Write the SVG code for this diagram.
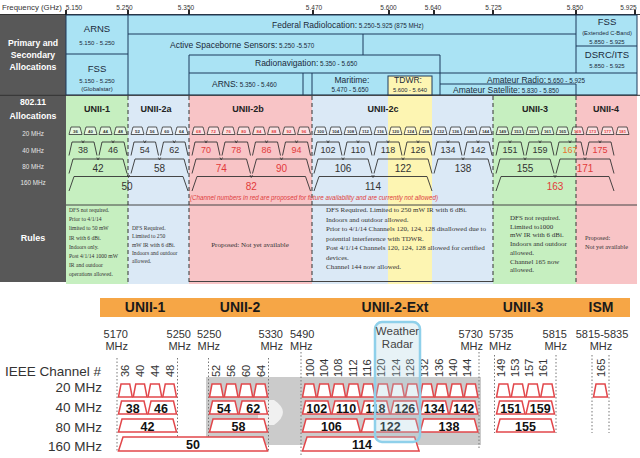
<svg xmlns="http://www.w3.org/2000/svg" width="640" height="458" viewBox="0 0 640 458">
<defs>
<style>
text{font-family:"Liberation Sans",Arial,sans-serif}
g.ser text{font-family:"Liberation Serif","Times New Roman",serif;font-size:7px;fill:#333}
g.ser text.sm{font-size:5.6px}
.al{fill:#aae3f4;stroke:#1c3b5c;stroke-width:1}
.ln{stroke:#1c3b5c;stroke-width:1;fill:none}
.at{fill:#1a2a3a;font-size:8.5px}
.as{fill:#1a2a3a;font-size:6.3px}
.wh{fill:#fff;font-weight:bold;font-size:8.7px;text-anchor:middle}
.lg{fill:#e6e6e6;font-size:6.3px;text-anchor:middle}
.hd{fill:#222;font-weight:bold;font-size:9px;text-anchor:middle}
.dsh{stroke:#333;stroke-width:1;stroke-dasharray:4 3}
.c20{fill:#fff;fill-opacity:.5;stroke:#333;stroke-width:.8}
.cho{fill:none;stroke:#333;stroke-width:.9}
.n4{font-size:4.3px;font-weight:bold;text-anchor:middle}
.n9{font-size:9px;text-anchor:middle}
.n10{font-size:10px;text-anchor:middle}
.k{fill:#333}
.r{fill:#e23a3a}
.tk{stroke:#333;stroke-width:.8;fill:none}
.rb{fill:#fff;stroke:#e2474b;stroke-width:1.5}
.bn{font-size:12.5px;font-weight:bold;fill:#111;text-anchor:middle}
.cn{font-size:11px;fill:#333}
.dot{stroke:#777;stroke-width:1;stroke-dasharray:1.5 2}
.fq{font-size:11px;fill:#333}
.ob{font-size:14px;font-weight:bold;fill:#1a1a1a;text-anchor:middle}
.rl{font-size:13.5px;fill:#333;text-anchor:end}
.tl{font-size:6.5px;fill:#333;text-anchor:middle}
</style>
</defs>
<rect width="640" height="458" fill="#fff"/>

<!-- ================= TOP CHART ================= -->
<g id="freq-header">
  <text x="2" y="10" style="font-size:7.8px;fill:#333">Frequency (GHz)</text>
  <line x1="0" y1="14.5" x2="640" y2="14.5" stroke="#333" stroke-width="1"/>
  <g stroke="#111" stroke-width="1.8">
    <line x1="66" y1="10" x2="66" y2="17"/><line x1="128" y1="10" x2="128" y2="17"/>
    <line x1="189" y1="10" x2="189" y2="17"/><line x1="313" y1="10" x2="313" y2="17"/>
    <line x1="389" y1="10" x2="389" y2="17"/><line x1="434" y1="10" x2="434" y2="17"/>
    <line x1="493" y1="10" x2="493" y2="17"/><line x1="576" y1="10" x2="576" y2="17"/>
    <line x1="635" y1="10" x2="635" y2="17"/>
  </g>
  <text class="tl" x="74" y="9.5">5.150</text><text class="tl" x="124.5" y="9.5">5.250</text>
  <text class="tl" x="186" y="9.5">5.350</text><text class="tl" x="314" y="9.5">5.470</text>
  <text class="tl" x="388.5" y="9.5">5.600</text><text class="tl" x="433" y="9.5">5.640</text>
  <text class="tl" x="493.5" y="9.5">5.725</text><text class="tl" x="575" y="9.5">5.850</text>
  <text class="tl" x="628.5" y="9.5">5.925</text>
</g>

<g id="left-column">
  <rect x="0" y="15" width="66" height="267" fill="#585858"/>
  <text class="wh" x="33" y="46">Primary and</text>
  <text class="wh" x="33" y="57.5">Secondary</text>
  <text class="wh" x="33" y="69.5">Allocations</text>
  <text class="wh" x="33" y="105">802.11</text>
  <text class="wh" x="33" y="118.5">Allocations</text>
  <text class="lg" x="33" y="136">20 MHz</text>
  <text class="lg" x="33" y="152.5">40 MHz</text>
  <text class="lg" x="33" y="169">80 MHz</text>
  <text class="lg" x="33" y="185">160 MHz</text>
  <text class="wh" x="33" y="241" style="font-size:9px">Rules</text>
</g>

<g id="primary-allocations">
  <rect class="al" x="66" y="15" width="571" height="80"/>
  <g class="ln">
    <line x1="66" y1="54" x2="128" y2="54"/>
    <line x1="128" y1="15" x2="128" y2="95"/>
    <line x1="128" y1="34" x2="576" y2="34"/>
    <line x1="576" y1="15" x2="576" y2="73"/>
    <line x1="576" y1="84" x2="576" y2="95"/>
    <line x1="576" y1="46" x2="637" y2="46"/>
    <line x1="363" y1="34" x2="363" y2="55"/>
    <line x1="189" y1="55" x2="440" y2="55"/>
    <line x1="189" y1="55" x2="189" y2="95"/>
    <line x1="440" y1="55" x2="440" y2="95"/>
    <line x1="189" y1="73" x2="637" y2="73"/>
    <line x1="303" y1="73" x2="303" y2="95"/>
    <line x1="312" y1="73" x2="312" y2="95"/>
    <line x1="440" y1="84" x2="576" y2="84"/>
  </g>
  <rect x="388" y="76" width="44" height="19" fill="#fdf5b2" stroke="#1c3b5c" stroke-width="1"/>
  <g id="arns-1"><text class="at" x="97" y="32" text-anchor="middle" style="font-size:9.5px">ARNS</text><text class="as" x="97" y="45" text-anchor="middle" style="font-size:6px">5.150 - 5.250</text></g>
  <g id="fss-1"><text class="at" x="97" y="72" text-anchor="middle" style="font-size:9.5px">FSS</text><text class="as" x="97" y="83" text-anchor="middle" style="font-size:6px">5.150 - 5.250</text><text class="as" x="97" y="90.5" text-anchor="middle" style="font-size:6px">(Globalstar)</text></g>
  <g id="federal"><text class="at" x="272" y="28">Federal Radiolocation:<tspan class="as"> 5.250-5.925 (875 MHz)</tspan></text></g>
  <g id="active"><text class="at" x="170" y="47.5">Active Spaceborne Sensors:<tspan class="as"> 5.250 -5.570</tspan></text></g>
  <g id="radionav"><text class="at" x="255" y="66">Radionavigation:<tspan class="as"> 5.350 - 5.650</tspan></text></g>
  <g id="arns-2"><text class="at" x="212" y="87">ARNS:<tspan class="as"> 5.350 - 5.460</tspan></text></g>
  <g id="maritime"><text class="at" x="352" y="82.5" text-anchor="middle">Maritime:</text><text class="as" x="350" y="91.5" text-anchor="middle">5.470 - 5.650</text></g>
  <g id="tdwr"><text class="at" x="408" y="83" text-anchor="middle">TDWR:</text><text class="as" x="410" y="92" text-anchor="middle" style="font-size:5.8px">5.600 - 5.640</text></g>
  <g id="amateur-radio"><text class="at" x="487" y="82.5">Amateur Radio:<tspan class="as"> 5.650 - 5.925</tspan></text></g>
  <g id="amateur-sat"><text class="at" x="453" y="92.5">Amateur Satellite:<tspan class="as"> 5.830 - 5.850</tspan></text></g>
  <g id="fss-2"><text class="at" x="607" y="25" text-anchor="middle" style="font-size:9.5px">FSS</text><text class="as" x="607" y="34.5" text-anchor="middle" style="font-size:5.8px">(Extended C-Band)</text><text class="as" x="607" y="43.5" text-anchor="middle" style="font-size:6px">5.850 - 5.925</text></g>
  <g id="dsrc"><text class="at" x="607" y="57.5" text-anchor="middle" style="font-size:9.5px">DSRC/ITS</text><text class="as" x="607" y="67.5" text-anchor="middle" style="font-size:6px">5.850 - 5.925</text></g>
</g>
<line x1="0" y1="95.3" x2="640" y2="95.3" stroke="#333" stroke-width="1"/>

<g id="bands-80211">
  <rect x="66" y="96" width="62" height="188" fill="#c6efc0"/>
  <rect x="128" y="96" width="61" height="188" fill="#dbe9f6"/>
  <rect x="189" y="96" width="123" height="188" fill="#f8c4c6"/>
  <rect x="312" y="96" width="181" height="188" fill="#dbe9f6"/>
  <rect x="388" y="96" width="44" height="188" fill="#fdf5b2"/>
  <rect x="493" y="96" width="83" height="188" fill="#c6efc0"/>
  <rect x="576" y="96" width="61" height="188" fill="#f8c4c6"/>
  <line x1="66" y1="205" x2="637" y2="205" stroke="#444" stroke-width="1"/>
  <line x1="189" y1="281.5" x2="493" y2="281.5" stroke="#444" stroke-width="1"/>
  <g class="dsh">
    <line x1="128" y1="96" x2="128" y2="284"/><line x1="189" y1="96" x2="189" y2="284"/>
    <line x1="312" y1="96" x2="312" y2="284"/><line x1="493" y1="96" x2="493" y2="284"/>
    <line x1="576" y1="96" x2="576" y2="284"/>
  </g>
  <text class="hd" x="97" y="111.5">UNII-1</text>
  <text class="hd" x="156" y="111.5">UNII-2a</text>
  <text class="hd" x="248" y="111.5">UNII-2b</text>
  <text class="hd" x="383" y="111.5">UNII-2c</text>
  <text class="hd" x="535" y="111.5">UNII-3</text>
  <text class="hd" x="606" y="111.5">UNII-4</text>
</g>

<g id="top-20mhz">
  <g class="c20">
    <path d="M69 134.5L71 127H80L82 134.5Z"/><path d="M84 134.5L86 127H95L97 134.5Z"/><path d="M99 134.5L101 127H110L112 134.5Z"/><path d="M114 134.5L116 127H125L127 134.5Z"/>
    <path d="M131 134.5L133 127H142L144 134.5Z"/><path d="M146 134.5L148 127H156.5L158.5 134.5Z"/><path d="M160.5 134.5L162.5 127H171L173 134.5Z"/><path d="M175 134.5L177 127H186L188 134.5Z"/>
    <path d="M192 134.5L194 127H203L205 134.5Z"/><path d="M207 134.5L209 127H218L220 134.5Z"/><path d="M222 134.5L224 127H233L235 134.5Z"/><path d="M237 134.5L239 127H248.5L250.5 134.5Z"/>
    <path d="M252.5 134.5L254.5 127H263.5L265.5 134.5Z"/><path d="M267.5 134.5L269.5 127H278.5L280.5 134.5Z"/><path d="M282.5 134.5L284.5 127H293.5L295.5 134.5Z"/><path d="M297.5 134.5L299.5 127H308.5L310.5 134.5Z"/>
    <path d="M314 134.5L316 127H325L327 134.5Z"/><path d="M329 134.5L331 127H340L342 134.5Z"/><path d="M344 134.5L346 127H355L357 134.5Z"/><path d="M359 134.5L361 127H370L372 134.5Z"/>
    <path d="M374 134.5L376 127H385L387 134.5Z"/><path d="M389 134.5L391 127H400L402 134.5Z"/><path d="M404 134.5L406 127H415L417 134.5Z"/><path d="M419 134.5L421 127H430L432 134.5Z"/>
    <path d="M434 134.5L436 127H445L447 134.5Z"/><path d="M449 134.5L451 127H460L462 134.5Z"/><path d="M464 134.5L466 127H475L477 134.5Z"/><path d="M479 134.5L481 127H490L492 134.5Z"/>
    <path d="M496 134.5L498 127H507L509 134.5Z"/><path d="M511 134.5L513 127H522L524 134.5Z"/><path d="M526 134.5L528 127H537L539 134.5Z"/><path d="M541 134.5L543 127H552L554 134.5Z"/>
    <path d="M556 134.5L558 127H567L569 134.5Z"/><path d="M571 134.5L573 127H582L584 134.5Z"/><path d="M586 134.5L588 127H597L599 134.5Z"/><path d="M601 134.5L603 127H612L614 134.5Z"/><path d="M616 134.5L618 127H627L629 134.5Z"/>
  </g>
  <g class="n4 k">
    <text x="75.5" y="133">36</text><text x="90.5" y="133">40</text><text x="105.5" y="133">44</text><text x="120.5" y="133">48</text>
    <text x="137.5" y="133">52</text><text x="152.25" y="133">56</text><text x="166.75" y="133">60</text><text x="181.5" y="133">64</text>
    <text x="320.5" y="133">100</text><text x="335.5" y="133">104</text><text x="350.5" y="133">108</text><text x="365.5" y="133">112</text>
    <text x="380.5" y="133">116</text><text x="395.5" y="133">120</text><text x="410.5" y="133">124</text><text x="425.5" y="133">128</text>
    <text x="440.5" y="133">132</text><text x="455.5" y="133">136</text><text x="470.5" y="133">140</text><text x="485.5" y="133">144</text>
    <text x="502.5" y="133">149</text><text x="517.5" y="133">153</text><text x="532.5" y="133">157</text><text x="547.5" y="133">161</text><text x="562.5" y="133">165</text>
  </g>
  <g class="n4 r">
    <text x="198.5" y="133">68</text><text x="213.5" y="133">72</text><text x="228.5" y="133">76</text><text x="243.75" y="133">80</text>
    <text x="259" y="133">84</text><text x="274" y="133">88</text><text x="289" y="133">92</text><text x="304" y="133">96</text>
    <text x="577.5" y="133">169</text><text x="592.5" y="133">173</text><text x="607.5" y="133">177</text><text x="622.5" y="133">181</text>
  </g>
</g>

<g id="top-40mhz">
  <g class="cho">
    <path d="M69 155.5L72 142H94L97 155.5"/><path d="M99 155.5L102 142H124L127 155.5"/>
    <path d="M131 155.5L134 142H155.5L158.5 155.5"/><path d="M160.5 155.5L163.5 142H185L188 155.5"/>
    <path d="M192 155.5L195 142H217L220 155.5"/><path d="M222 155.5L225 142H247.5L250.5 155.5"/><path d="M252.5 155.5L255.5 142H277.5L280.5 155.5"/><path d="M282.5 155.5L285.5 142H307.5L310.5 155.5"/>
    <path d="M314 155.5L317 142H339L342 155.5"/><path d="M344 155.5L347 142H369L372 155.5"/><path d="M374 155.5L377 142H399L402 155.5"/>
    <path d="M404 155.5L407 142H429L432 155.5"/><path d="M434 155.5L437 142H459L462 155.5"/><path d="M464 155.5L467 142H489L492 155.5"/>
    <path d="M496 155.5L499 142H521L524 155.5"/><path d="M526 155.5L529 142H551L554 155.5"/><path d="M556 155.5L559 142H581L584 155.5"/><path d="M586 155.5L589 142H611L614 155.5"/>
  </g>
  <g class="n9 k">
    <text x="83" y="153">38</text><text x="113" y="153">46</text><text x="144.75" y="153">54</text><text x="174.25" y="153">62</text>
    <text x="328" y="153">102</text><text x="358" y="153">110</text><text x="388" y="153">118</text><text x="418" y="153">126</text>
    <text x="448" y="153">134</text><text x="478" y="153">142</text><text x="510" y="153">151</text><text x="540" y="153">159</text>
  </g>
  <g class="n9 r">
    <text x="206" y="153">70</text><text x="236.25" y="153">78</text><text x="266.5" y="153">86</text><text x="296.5" y="153">94</text>
    <text x="570" y="153" fill="#e8742c">167</text><text x="600" y="153">175</text>
  </g>
</g>

<g id="top-80mhz">
  <g class="cho">
    <path d="M69 173.5L73 159H123L127 173.5"/><path d="M131 173.5L135 159H184L188 173.5"/>
    <path d="M192 173.5L196 159H246.5L250.5 173.5"/><path d="M252.5 173.5L256.5 159H306.5L310.5 173.5"/>
    <path d="M314 173.5L318 159H368L372 173.5"/><path d="M374 173.5L378 159H428L432 173.5"/><path d="M434 173.5L438 159H488L492 173.5"/>
    <path d="M496 173.5L500 159H550L554 173.5"/><path d="M556 173.5L560 159H610L614 173.5"/>
  </g>
  <g class="n10 k">
    <text x="98" y="171.5">42</text><text x="159.5" y="171.5">58</text><text x="343" y="171.5">106</text>
    <text x="403" y="171.5">122</text><text x="463" y="171.5">138</text><text x="525" y="171.5">155</text>
  </g>
  <g class="n10 r">
    <text x="221.25" y="171.5">74</text><text x="281.5" y="171.5">90</text><text x="585" y="171.5">171</text>
  </g>
</g>

<g id="top-160mhz">
  <g class="cho">
    <path d="M69 191L74 176.5H183L188 191"/><path d="M192 191L197 176.5H305.5L310.5 191"/>
    <path d="M314 191L319 176.5H427L432 191"/><path d="M496 191L501 176.5H609L614 191"/>
  </g>
  <text class="n10 k" x="127" y="190">50</text>
  <text class="n10 r" x="251.25" y="190">82</text>
  <text class="n10 k" x="373" y="190">114</text>
  <text class="n10 r" x="555" y="190">163</text>
  <text x="190" y="199.5" textLength="248" style="font-size:6.3px;font-style:italic;fill:#e04040">(Channel numbers in red are proposed for future availability and are currently not allowed)</text>
</g>

<g id="connectors">
  <g class="tk">
    <path d="M81.8 140.5L83 143L84.2 140.5M111.8 140.5L113 143L114.2 140.5M143.5 140.5L144.75 143L146 140.5M173 140.5L174.25 143L175.5 140.5"/>
    <path d="M204.8 140.5L206 143L207.2 140.5M235 140.5L236.25 143L237.5 140.5M265.3 140.5L266.5 143L267.7 140.5M295.3 140.5L296.5 143L297.7 140.5"/>
    <path d="M326.8 140.5L328 143L329.2 140.5M356.8 140.5L358 143L359.2 140.5M386.8 140.5L388 143L389.2 140.5M416.8 140.5L418 143L419.2 140.5M446.8 140.5L448 143L449.2 140.5M476.8 140.5L478 143L479.2 140.5"/>
    <path d="M508.8 140.5L510 143L511.2 140.5M538.8 140.5L540 143L541.2 140.5M568.8 140.5L570 143L571.2 140.5M598.8 140.5L600 143L601.2 140.5"/>
    <path d="M96.8 157.5L98 160L99.2 157.5M158.3 157.5L159.5 160L160.7 157.5M220 157.5L221.25 160L222.5 157.5M280.3 157.5L281.5 160L282.7 157.5M341.8 157.5L343 160L344.2 157.5M401.8 157.5L403 160L404.2 157.5M461.8 157.5L463 160L464.2 157.5M523.8 157.5L525 160L526.2 157.5M583.8 157.5L585 160L586.2 157.5"/>
    <path d="M127.3 175L128.5 177.5L129.7 175M250 175L251.25 177.5L252.5 175M371.8 175L373 177.5L374.2 175M553.8 175L555 177.5L556.2 175"/>
  </g>
</g>

<g id="rules">
  <g class="ser">
    <text class="sm" x="69" y="212">DFS not required.</text>
    <text class="sm" x="69" y="221">Prior to 4/1/14</text>
    <text class="sm" x="69" y="230">limited to 50 mW</text>
    <text class="sm" x="69" y="239.5">IR with 6 dBi.</text>
    <text class="sm" x="69" y="248.5">Indoors only.</text>
    <text class="sm" x="69" y="257.5">Post 4/1/14 1000 mW</text>
    <text class="sm" x="69" y="266.5">IR and outdoor</text>
    <text class="sm" x="69" y="275.5">operations allowed.</text>
    <text class="sm" x="132" y="230">DFS Required.</text>
    <text class="sm" x="132" y="238.3">Limited to 250</text>
    <text class="sm" x="132" y="246.6">mW IR with 6 dBi.</text>
    <text class="sm" x="132" y="254.9">Indoors and outdoor</text>
    <text class="sm" x="132" y="263.2">allowed.</text>
    <text x="326" y="212">DFS Required.  Limited to 250 mW IR with 6 dBi.</text>
    <text x="326" y="221.5">Indoors and outdoor allowed.</text>
    <text x="326" y="231">Prior to 4/1/14 Channels 120, 124, 128 disallowed due to</text>
    <text x="326" y="240.5">potential interference with TDWR.</text>
    <text x="326" y="250">Post 4/1/14 Channels 120, 124, 128 allowed for certified</text>
    <text x="326" y="259.5">devices.</text>
    <text x="326" y="269">Channel 144 now allowed.</text>
    <text x="510" y="220">DFS not required.</text>
    <text x="510" y="228.7">Limited to1000</text>
    <text x="510" y="237.4">mW IR with 6 dBi.</text>
    <text x="510" y="246.1">Indoors and outdoor</text>
    <text x="510" y="254.8">allowed.</text>
    <text x="510" y="263.5">Channel 165 now</text>
    <text x="510" y="272.2">allowed.</text>
    <text x="585" y="240" style="font-size:6.3px">Proposed:</text>
    <text x="585" y="249" style="font-size:6.3px">Not yet available</text>
    <text x="250" y="247" text-anchor="middle">Proposed: Not yet available</text>
  </g>
</g>

<!-- ================= BOTTOM CHART ================= -->
<g id="bottom-bands">
  <rect x="100" y="298" width="530" height="19" fill="#f6a646"/>
  <text class="ob" x="145" y="311.5">UNII-1</text>
  <text class="ob" x="240" y="311.5">UNII-2</text>
  <text class="ob" x="395" y="311.5">UNII-2-Ext</text>
  <text class="ob" x="523" y="311.5">UNII-3</text>
  <text class="ob" x="601" y="311.5">ISM</text>
</g>

<g id="bottom-freqs" class="fq">
  <text x="128" y="338" text-anchor="end">5170</text><text x="128" y="350" text-anchor="end">MHz</text>
  <text x="191" y="338" text-anchor="end">5250</text><text x="191" y="350" text-anchor="end">MHz</text>
  <text x="197" y="338">5250</text><text x="197.5" y="350">MHz</text>
  <text x="283" y="338" text-anchor="end">5330</text><text x="283" y="350" text-anchor="end">MHz</text>
  <text x="290" y="338">5490</text><text x="290" y="350">MHz</text>
  <text x="483" y="338" text-anchor="end">5730</text><text x="483" y="350" text-anchor="end">MHz</text>
  <text x="489" y="338">5735</text><text x="489" y="350">MHz</text>
  <text x="567" y="338" text-anchor="end">5815</text><text x="567" y="350" text-anchor="end">MHz</text>
  <text x="602" y="338" text-anchor="middle">5815-5835</text><text x="601" y="350" text-anchor="middle">MHz</text>
</g>

<g id="row-labels">
  <text class="rl" x="101" y="376">IEEE Channel #</text>
  <text class="rl" x="102" y="392">20 MHz</text>
  <text class="rl" x="102" y="412">40 MHz</text>
  <text class="rl" x="102" y="432">80 MHz</text>
  <text class="rl" x="102" y="451">160 MHz</text>
</g>

<g id="watermark">
  <rect x="206" y="377" width="275" height="68" fill="#cbcbcb"/>
  <path d="M258 400H274Q292 412 274 425H258Z" fill="#f0f0f0"/>
</g>

<g id="dotted-guides" class="dot">
  <line x1="117" y1="358" x2="117" y2="452"/><line x1="177.5" y1="358" x2="177.5" y2="452"/>
  <line x1="208.5" y1="358" x2="208.5" y2="452"/><line x1="268.5" y1="358" x2="268.5" y2="452"/>
  <line x1="301" y1="352" x2="301" y2="455"/><line x1="479" y1="352" x2="479" y2="450"/>
  <line x1="494.5" y1="355" x2="494.5" y2="433"/><line x1="556" y1="355" x2="556" y2="433"/>
  <line x1="592" y1="355" x2="592" y2="433"/><line x1="609" y1="355" x2="609" y2="433"/>
</g>

<g id="channel-numbers" class="cn">
  <text transform="translate(129.4 377) rotate(-90)">36</text>
  <text transform="translate(144.1 377) rotate(-90)">40</text>
  <text transform="translate(158.9 377) rotate(-90)">44</text>
  <text transform="translate(173.6 377) rotate(-90)">48</text>
  <text transform="translate(220.4 377) rotate(-90)">52</text>
  <text transform="translate(235.1 377) rotate(-90)">56</text>
  <text transform="translate(249.9 377) rotate(-90)">60</text>
  <text transform="translate(264.6 377) rotate(-90)">64</text>
  <text transform="translate(313.5 377) rotate(-90)">100</text>
  <text transform="translate(327.8 377) rotate(-90)">104</text>
  <text transform="translate(342.2 377) rotate(-90)">108</text>
  <text transform="translate(356.5 377) rotate(-90)">112</text>
  <text transform="translate(370.8 377) rotate(-90)">116</text>
  <text transform="translate(385.2 377) rotate(-90)">120</text>
  <text transform="translate(399.5 377) rotate(-90)">124</text>
  <text transform="translate(413.8 377) rotate(-90)">128</text>
  <text transform="translate(428.2 377) rotate(-90)">132</text>
  <text transform="translate(442.5 377) rotate(-90)">136</text>
  <text transform="translate(456.8 377) rotate(-90)">140</text>
  <text transform="translate(471 377) rotate(-90)">144</text>
  <text transform="translate(505 377) rotate(-90)">149</text>
  <text transform="translate(519 377) rotate(-90)">153</text>
  <text transform="translate(533 377) rotate(-90)">157</text>
  <text transform="translate(547 377) rotate(-90)">161</text>
  <text transform="translate(605 377) rotate(-90)">165</text>
</g>

<g id="bottom-20mhz" class="rb">
  <path d="M118.5 397L121 384H129.75L132.25 397Z"/><path d="M133.25 397L135.75 384H144.5L147 397Z"/><path d="M148 397L150.5 384H159.25L161.75 397Z"/><path d="M162.75 397L165.25 384H174L176.5 397Z"/>
  <path d="M209.5 397L212 384H220.75L223.25 397Z"/><path d="M224.25 397L226.75 384H235.5L238 397Z"/><path d="M239 397L241.5 384H250.25L252.75 397Z"/><path d="M253.75 397L256.25 384H265L267.5 397Z"/>
  <path d="M302.5 397L305 384H313.7L316.2 397Z"/><path d="M317.2 397L319.7 384H328.4L330.9 397Z"/><path d="M331.9 397L334.4 384H343.1L345.6 397Z"/><path d="M346.6 397L349.1 384H357.8L360.3 397Z"/>
  <path d="M361.3 397L363.8 384H372.5L375 397Z"/><path d="M376 397L378.5 384H387.2L389.7 397Z"/><path d="M390.7 397L393.2 384H401.9L404.4 397Z"/><path d="M405.4 397L407.9 384H416.6L419.1 397Z"/>
  <path d="M420.1 397L422.6 384H431.3L433.8 397Z"/><path d="M434.8 397L437.3 384H446L448.5 397Z"/><path d="M449.5 397L452 384H460.7L463.2 397Z"/><path d="M464.2 397L466.7 384H475.4L477.9 397Z"/>
  <path d="M496.5 397L499 384H507.75L510.25 397Z"/><path d="M511.25 397L513.75 384H522.5L525 397Z"/><path d="M526 397L528.5 384H537.25L539.75 397Z"/><path d="M540.75 397L543.25 384H552L554.5 397Z"/>
  <path d="M593.5 397L596 384H605L607.5 397Z"/>
</g>

<g id="bottom-40mhz">
  <g class="rb">
    <path d="M118.5 414L121.5 401H144L147 414Z"/><path d="M148 414L151 401H173.5L176.5 414Z"/>
    <path d="M209.5 414L212.5 401H235L238 414Z"/><path d="M239 414L242 401H264.5L267.5 414Z"/>
    <path d="M302.5 414L305.5 401H327.9L330.9 414Z"/><path d="M331.9 414L334.9 401H357.3L360.3 414Z"/><path d="M361.3 414L364.3 401H386.7L389.7 414Z"/>
    <path d="M390.7 414L393.7 401H416.1L419.1 414Z"/><path d="M420.1 414L423.1 401H445.5L448.5 414Z"/><path d="M449.5 414L452.5 401H474.9L477.9 414Z"/>
    <path d="M496.5 414L499.5 401H522L525 414Z"/><path d="M526 414L529 401H551.5L554.5 414Z"/>
  </g>
  <g class="bn">
    <text x="132.75" y="412.5">38</text><text x="161" y="412.5">46</text><text x="223.75" y="412.5">54</text><text x="253.25" y="412.5">62</text>
    <text x="316.7" y="412.5">102</text><text x="346.1" y="412.5">110</text><text x="375.5" y="412.5">118</text><text x="404.9" y="412.5">126</text>
    <text x="434.3" y="412.5">134</text><text x="463.7" y="412.5">142</text><text x="510.75" y="412.5">151</text><text x="540.25" y="412.5">159</text>
  </g>
</g>

<g id="bottom-80mhz">
  <g class="rb">
    <path d="M118.5 432L122 419H173L176.5 432Z"/><path d="M209.5 432L213 419H264L267.5 432Z"/>
    <path d="M302.5 432L306 419H356.8L360.3 432Z"/><path d="M361.3 432L364.8 419H415.6L419.1 432Z"/><path d="M420.1 432L423.6 419H474.4L477.9 432Z"/>
    <path d="M496.5 432L500 419H551L554.5 432Z"/>
  </g>
  <g class="bn">
    <text x="147.5" y="430.5">42</text><text x="238.5" y="430.5">58</text><text x="331.4" y="430.5">106</text>
    <text x="390.2" y="430.5">122</text><text x="449" y="430.5">138</text><text x="525.5" y="430.5">155</text>
  </g>
</g>

<g id="bottom-160mhz">
  <g class="rb">
    <path d="M118.5 451L123 437H263L267.5 451Z"/><path d="M302.5 451L307 437H414.6L419.1 451Z"/>
  </g>
  <g class="bn"><text x="193" y="449">50</text><text x="362" y="449">114</text></g>
</g>

<g id="weather-radar">
  <rect x="375" y="322" width="45" height="120" rx="7" fill="#a9cfe0" fill-opacity="0.28" stroke="#8fd0ea" stroke-width="2.5"/>
  <text x="397.5" y="335" text-anchor="middle" style="font-size:11.5px;fill:#444">Weather</text>
  <text x="397.5" y="348" text-anchor="middle" style="font-size:11.5px;fill:#444">Radar</text>
</g>
</svg>
